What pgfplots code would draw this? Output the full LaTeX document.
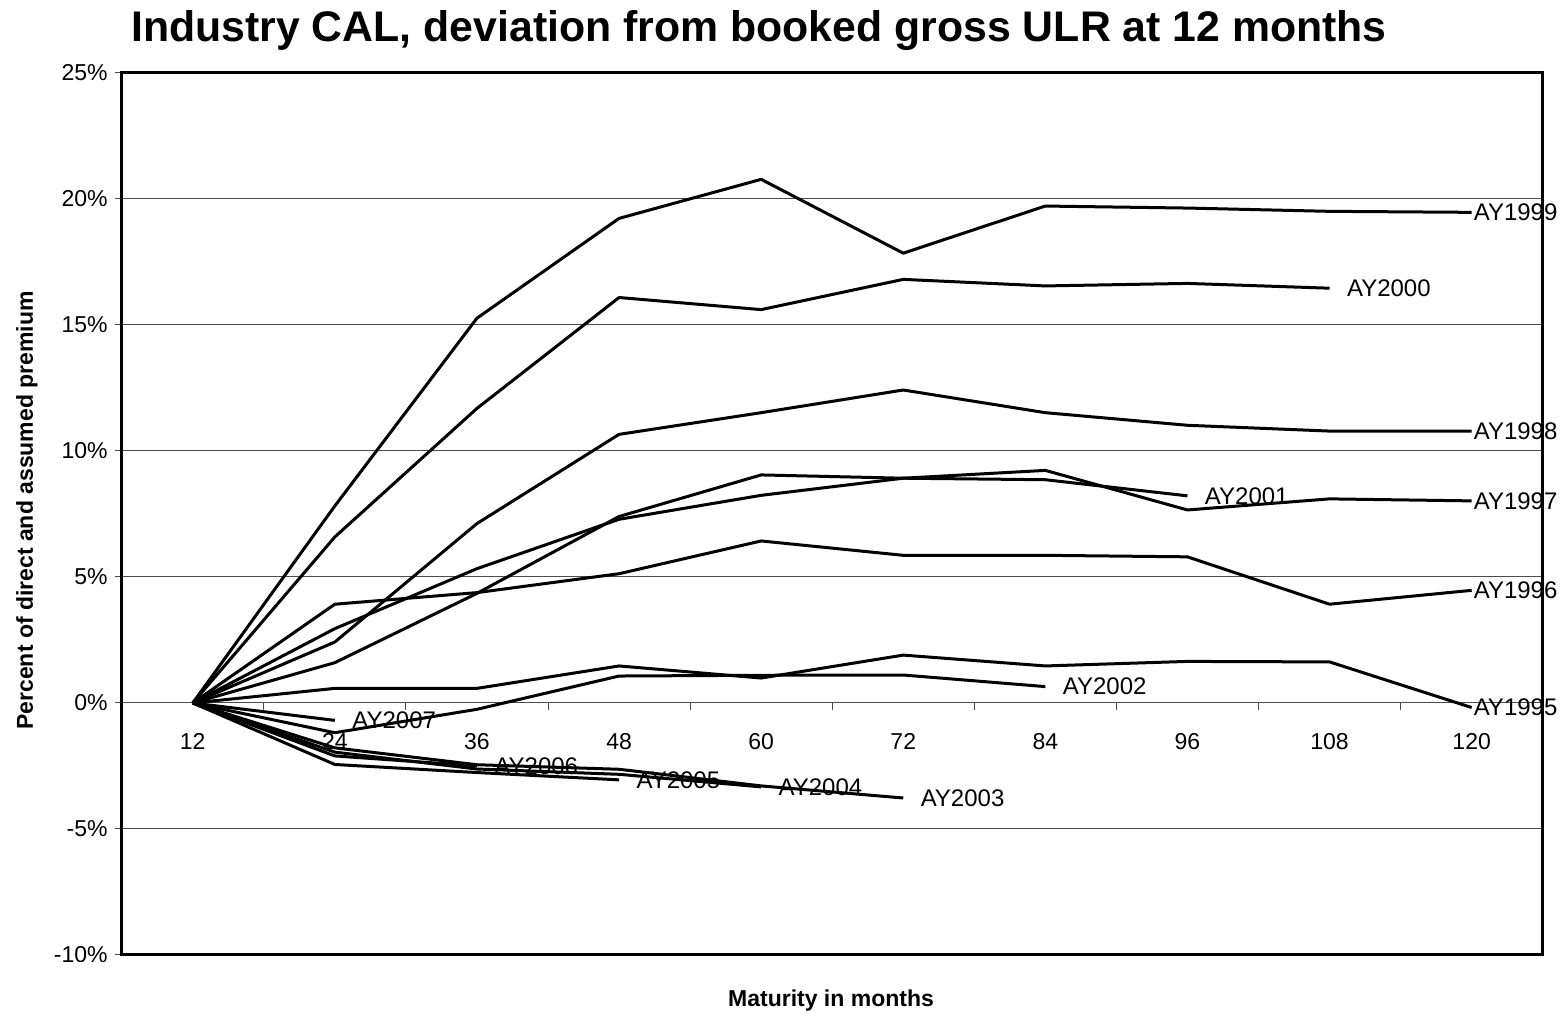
\documentclass[border=0pt]{standalone}
\usepackage{fontspec}
\setmainfont{Liberation Sans}
\usepackage{pgfplots}
\pgfplotsset{compat=1.18}
\begin{document}
\begin{tikzpicture}[
  ser/.style={draw=black, solid, line width=1.5pt, mark=none, line join=round},
  lbl/.style={anchor=west, inner sep=0pt, text=black, font=\fontsize{12}{14}\selectfont},
]
\path[use as bounding box] (0,0) rectangle (784pt,508pt);
\begin{axis}[
  at={(60.85pt,30.5pt)}, anchor=south west,
  scale only axis, width=710.5pt, height=441pt,
  xmin=0.5, xmax=10.5, ymin=-10, ymax=25,
  clip=false,
  axis x line*=middle, axis y line*=left,
  hide obscured x ticks=false, hide obscured y ticks=false,
  /pgf/number format/assume math mode=true,
  tick label style={font=\fontsize{11.5}{13}\selectfont},
  xtick={1,...,10}, xticklabels={12,24,36,48,60,72,84,96,108,120},
  minor x tick num=1,
  xtick align=outside,
  major x tick style={draw=none},
  minor x tick style={draw=black!70, line width=0.5pt},
  minor tick length=3.5pt,
  major tick length=3.5pt,
  xticklabel style={yshift=-8pt},
  ytick={-10,-5,0,5,10,15,20,25},
  yticklabels={-10\%,-5\%,0\%,5\%,10\%,15\%,20\%,25\%},
  ytick align=outside,
  ytick pos=left,
  y tick style={draw=black!70, line width=0.5pt},
  ymajorgrids,
  major y grid style={draw=black!70, line width=0.5pt},
  x axis line style={draw=black!70, line width=0.5pt},
  y axis line style={line width=1.5pt},
]
\draw[line width=1.5pt] (rel axis cs:0,0) rectangle (rel axis cs:1,1);
\addplot[ser] coordinates {(1,0) (2,0.58) (3,0.58) (4,1.47) (5,0.99) (6,1.90) (7,1.47) (8,1.65) (9,1.63) (10,-0.18)}
  node[pos=1, lbl, xshift=0.3pt] {AY1995};
\addplot[ser] coordinates {(1,0) (2,3.92) (3,4.38) (4,5.13) (5,6.43) (6,5.86) (7,5.86) (8,5.80) (9,3.92) (10,4.47)}
  node[pos=1, lbl, xshift=0.3pt] {AY1996};
\addplot[ser] coordinates {(1,0) (2,1.60) (3,4.35) (4,7.40) (5,9.05) (6,8.92) (7,9.23) (8,7.66) (9,8.10) (10,8.02)}
  node[pos=1, lbl, xshift=0.3pt] {AY1997};
\addplot[ser] coordinates {(1,0) (2,2.42) (3,7.12) (4,10.66) (5,11.52) (6,12.42) (7,11.52) (8,11.02) (9,10.79) (10,10.79)}
  node[pos=1, lbl, xshift=0.3pt] {AY1998};
\addplot[ser] coordinates {(1,0) (2,7.82) (3,15.27) (4,19.23) (5,20.78) (6,17.85) (7,19.72) (8,19.64) (9,19.51) (10,19.47)}
  node[pos=1, lbl, xshift=0.3pt] {AY1999};
\addplot[ser] coordinates {(1,0) (2,6.59) (3,11.69) (4,16.09) (5,15.61) (6,16.81) (7,16.55) (8,16.65) (9,16.46)}
  node[pos=1, lbl, xshift=8pt] {AY2000};
\addplot[ser] coordinates {(1,0) (2,2.95) (3,5.33) (4,7.29) (5,8.24) (6,8.92) (7,8.86) (8,8.22)}
  node[pos=1, lbl, xshift=8pt] {AY2001};
\addplot[ser] coordinates {(1,0) (2,-1.18) (3,-0.25) (4,1.07) (5,1.10) (6,1.11) (7,0.65)}
  node[pos=1, lbl, xshift=8pt] {AY2002};
\addplot[ser] coordinates {(1,0) (2,-1.78) (3,-2.45) (4,-2.63) (5,-3.29) (6,-3.77)}
  node[pos=1, lbl, xshift=8pt] {AY2003};
\addplot[ser] coordinates {(1,0) (2,-1.95) (3,-2.62) (4,-2.83) (5,-3.33)}
  node[pos=1, lbl, xshift=8pt] {AY2004};
\addplot[ser] coordinates {(1,0) (2,-2.44) (3,-2.76) (4,-3.05)}
  node[pos=1, lbl, xshift=8pt] {AY2005};
\addplot[ser] coordinates {(1,0) (2,-2.10) (3,-2.50)}
  node[pos=1, lbl, xshift=8pt] {AY2006};
\addplot[ser] coordinates {(1,0) (2,-0.69)}
  node[pos=1, lbl, xshift=8pt] {AY2007};
\end{axis}
\node[anchor=base, font=\fontsize{21.4}{25}\selectfont\bfseries] at (379.5pt,487.15pt) {Industry CAL, deviation from booked gross ULR at 12 months};
\node[anchor=base, rotate=90, font=\fontsize{11.5}{14}\selectfont\bfseries] at (16.5pt,252.75pt) {Percent of direct and assumed premium};
\node[anchor=base, font=\fontsize{11.5}{14}\selectfont\bfseries] at (415.5pt,4.65pt) {Maturity in months};
\end{tikzpicture}
\end{document}
